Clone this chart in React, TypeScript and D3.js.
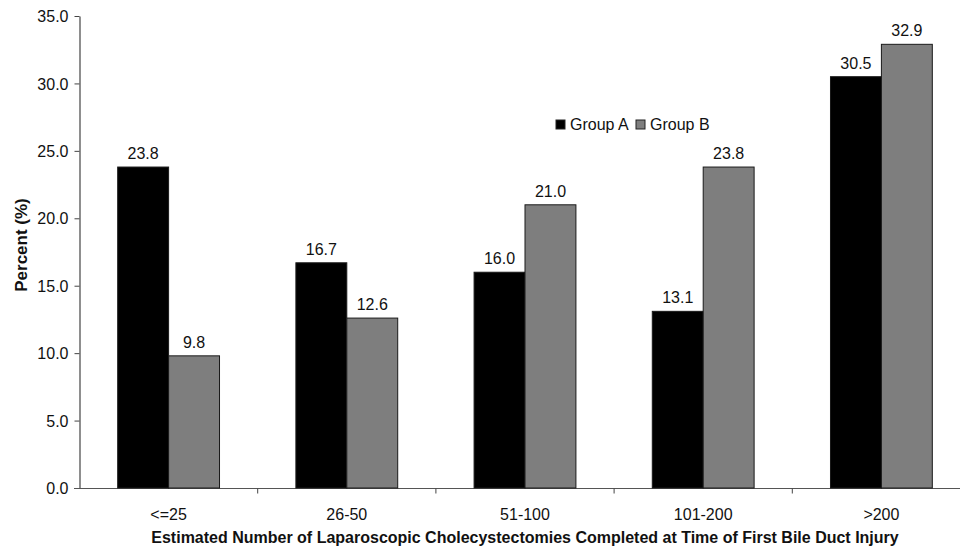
import * as React from 'react';
import { useEffect, useRef } from 'react';
import * as d3 from 'd3';

const categories = ['<=25', '26-50', '51-100', '101-200', '>200'];
const groups = ['Group A', 'Group B'];
const groupA = [23.8, 16.7, 16.0, 13.1, 30.5];
const groupB = [9.8, 12.6, 21.0, 23.8, 32.9];
const yTicks = [0, 5, 10, 15, 20, 25, 30, 35];

const colors: { [k: string]: string } = { 'Group A': '#000000', 'Group B': '#7e7e7e' };

const width = 960;
const height = 549;
const font = '"Liberation Sans", Arial, sans-serif';

export default function App() {
    const ref = useRef<SVGSVGElement>(null);

    useEffect(() => {
        const svg = d3.select(ref.current);
        svg.selectAll('*').remove();

        const x = d3.scaleBand<string>().domain(categories).range([79.5, 970.5]).padding(0);
        const xg = d3.scaleBand<string>().domain(groups).range([0, x.bandwidth()])
            .paddingInner(0).paddingOuter(0.75);
        const y = d3.scaleLinear().domain([0, 35]).range([488, 16]);

        const g = svg.append('g').style('font-family', font);

        // y axis
        const yAxis = g.append('g').attr('transform', 'translate(79.5,0)')
            .call(d3.axisLeft(y).tickValues(yTicks).tickSize(5).tickSizeOuter(0)
                .tickFormat((d) => d3.format('.1f')(d as number)));
        yAxis.select('.domain').attr('stroke', '#444').attr('stroke-width', 1.2);
        yAxis.selectAll('.tick line').attr('stroke', '#444');
        yAxis.selectAll('.tick text').attr('fill', '#111').style('font-size', '16px')
            .style('font-family', font).attr('x', -11).attr('dy', '0.35em');

        // x axis with ticks at band boundaries
        const xAxis = g.append('g').attr('transform', 'translate(0,488.5)');
        xAxis.append('line').attr('x1', 74).attr('x2', 970).attr('stroke', '#555').attr('stroke-width', 1.2);
        const bounds = categories.slice(1).map((c) => x(c) as number);
        xAxis.selectAll('line.tk').data(bounds).enter().append('line')
            .attr('class', 'tk')
            .attr('x1', (d) => d).attr('x2', (d) => d)
            .attr('y1', 0).attr('y2', 5).attr('stroke', '#444');
        xAxis.selectAll('text').data(categories).enter().append('text')
            .attr('x', (d) => (x(d) as number) + x.bandwidth() / 2)
            .attr('y', 31.5)
            .attr('text-anchor', 'middle')
            .style('font-size', '16px')
            .attr('fill', '#111')
            .text((d) => d);

        const rows = categories.map((c, i) => ({ cat: c, vals: [groupA[i], groupB[i]] }));

        const cat = g.selectAll('g.cat').data(rows).enter().append('g')
            .attr('class', 'cat')
            .attr('transform', (d) => 'translate(' + x(d.cat) + ',0)');

        const bar = cat.selectAll('g.bar')
            .data((d) => d.vals.map((v, j) => ({ grp: groups[j], v })))
            .enter().append('g');

        bar.append('rect')
            .attr('x', (d) => xg(d.grp) as number)
            .attr('y', (d) => y(d.v))
            .attr('width', xg.bandwidth())
            .attr('height', (d) => y(0) - y(d.v))
            .attr('fill', (d) => colors[d.grp])
            .attr('stroke', '#1a1a1a')
            .attr('stroke-width', 1);

        bar.append('text')
            .attr('x', (d) => (xg(d.grp) as number) + xg.bandwidth() / 2)
            .attr('y', (d) => y(d.v) - 8)
            .attr('text-anchor', 'middle')
            .style('font-size', '16px')
            .attr('fill', '#111')
            .text((d) => d.v.toFixed(1));

        // legend
        const legend = g.append('g').attr('transform', 'translate(556,120)');
        const items = legend.selectAll('g').data(groups).enter().append('g')
            .attr('transform', (d, i) => 'translate(' + i * 80 + ',0)');
        items.append('rect').attr('width', 9).attr('height', 9)
            .attr('fill', (d) => colors[d]).attr('stroke', '#222');
        items.append('text').attr('x', 14).attr('y', 9.5)
            .style('font-size', '16px').attr('fill', '#111').text((d) => d);

        // axis titles
        g.append('text')
            .attr('transform', 'translate(27,245) rotate(-90)')
            .attr('text-anchor', 'middle')
            .style('font-size', '17px').style('font-weight', 'bold').attr('fill', '#111')
            .text('Percent (%)');
        g.append('text')
            .attr('x', 525).attr('y', 543)
            .attr('text-anchor', 'middle')
            .style('font-size', '16px').style('font-weight', 'bold').attr('fill', '#111')
            .text('Estimated Number of Laparoscopic Cholecystectomies Completed at Time of First Bile Duct Injury');
    }, []);

    return (
        <svg ref={ref} width={width} height={height}
            style={{ position: 'absolute', left: 0, top: 0, background: '#fff' }} />
    );
}
